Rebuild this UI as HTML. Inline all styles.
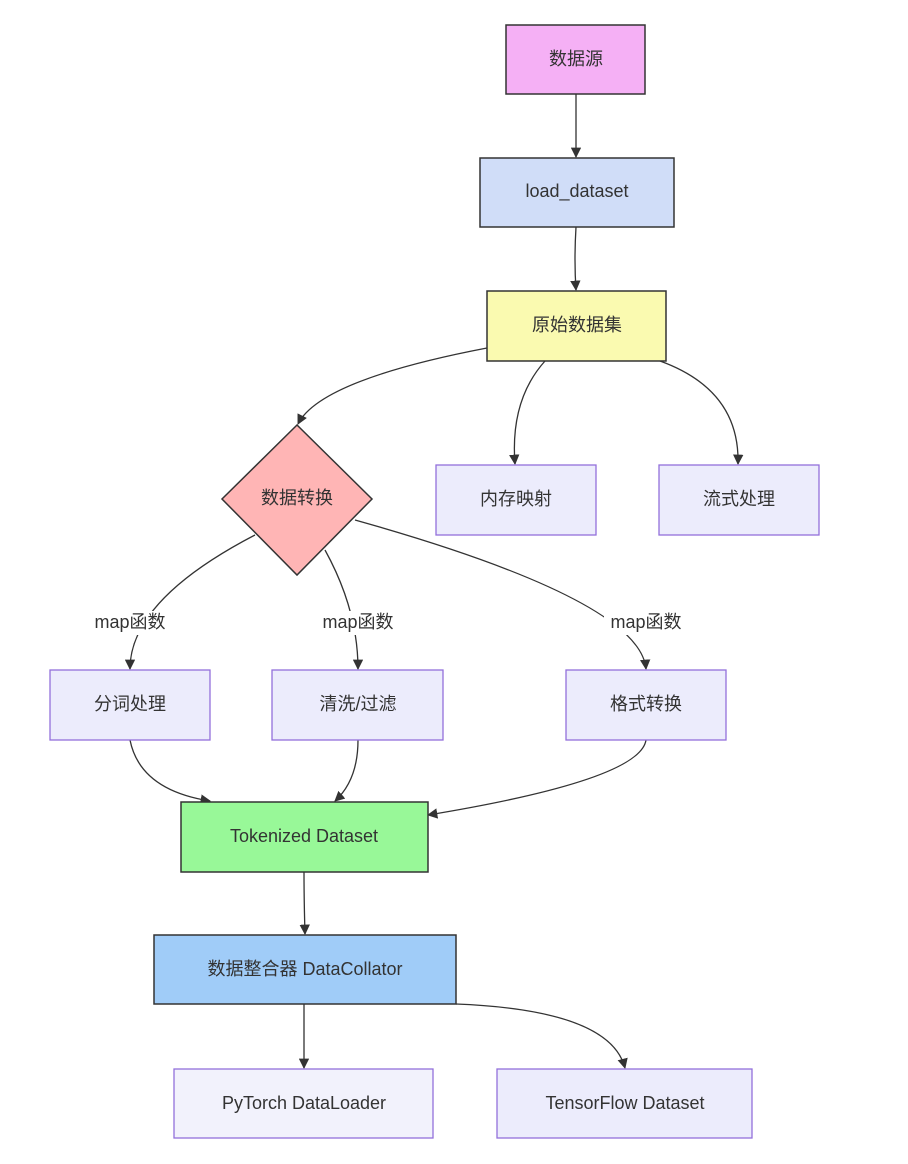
<!DOCTYPE html>
<html><head><meta charset="utf-8"><style>
body{margin:0;background:#fff}
text{font-family:"Liberation Sans","Noto Sans CJK SC",sans-serif;font-size:18px;fill:#333;text-anchor:middle;dominant-baseline:middle}
</style></head><body>
<svg width="908" height="1159" viewBox="0 0 908 1159" xmlns="http://www.w3.org/2000/svg">
<defs>
<marker id="a" viewBox="0 0 10 10" refX="9" refY="5" markerWidth="8" markerHeight="8" orient="auto"><path d="M0,0L10,5L0,10z" fill="#333"/></marker>
</defs>
<g fill="none" stroke="#333" stroke-width="1.3" marker-end="url(#a)">
<path d="M576,94 L576,157"/>
<path d="M576,227 Q574,260 576,290"/>
<path d="M487,348 Q320,380 298,424"/>
<path d="M545,361 Q510,400 515,464"/>
<path d="M660,361 Q740,390 738,464"/>
<path d="M255,535 Q130,600 130,669"/>
<path d="M325,550 Q358,610 358,669"/>
<path d="M355,520 Q640,600 646,669"/>
<path d="M130,740 Q140,790 210,801"/>
<path d="M358,740 Q358,780 335,801"/>
<path d="M646,740 Q640,780 428,815"/>
<path d="M304,872 Q304,900 305,934"/>
<path d="M304,1004 L304,1068"/>
<path d="M456,1004 Q610,1010 625,1068"/>
</g>
<g stroke="#333" stroke-width="1.5">
<rect x="506" y="25" width="139" height="69" fill="#f5b0f5"/>
<rect x="480" y="158" width="194" height="69" fill="#d0ddf8"/>
<rect x="487" y="291" width="179" height="70" fill="#fafab0"/>
<path d="M297,425 L372,499 L297,575 L222,499Z" fill="#ffb5b5"/>
<rect x="181" y="802" width="247" height="70" fill="#98f898"/>
<rect x="154" y="935" width="302" height="69" fill="#a0ccf8"/>
</g>
<g stroke="#9370db" stroke-width="1.3" fill="#ececfc">
<rect x="436" y="465" width="160" height="70"/>
<rect x="659" y="465" width="160" height="70"/>
<rect x="50" y="670" width="160" height="70"/>
<rect x="272" y="670" width="171" height="70"/>
<rect x="566" y="670" width="160" height="70"/>
<rect x="174" y="1069" width="259" height="69" fill="#f2f2fc"/>
<rect x="497" y="1069" width="255" height="69"/>
</g>
<text x="576" y="60">数据源</text>
<text x="577" y="192">load_dataset</text>
<text x="577" y="326">原始数据集</text>
<text x="297" y="499">数据转换</text>
<text x="516" y="500">内存映射</text>
<text x="739" y="500">流式处理</text>
<g><rect x="88" y="611" width="84" height="24" fill="#fff"/><text x="130" y="623">map函数</text>
<rect x="316" y="611" width="84" height="24" fill="#fff"/><text x="358" y="623">map函数</text>
<rect x="604" y="611" width="84" height="24" fill="#fff"/><text x="646" y="623">map函数</text></g>
<text x="130" y="705">分词处理</text>
<text x="358" y="705">清洗/过滤</text>
<text x="646" y="705">格式转换</text>
<text x="304" y="837">Tokenized Dataset</text>
<text x="305" y="970">数据整合器 DataCollator</text>
<text x="304" y="1104">PyTorch DataLoader</text>
<text x="625" y="1104">TensorFlow Dataset</text>
</svg>
</body></html>
